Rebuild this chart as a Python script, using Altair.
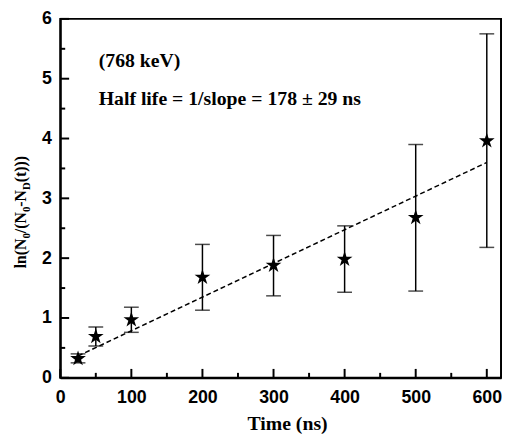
import altair as alt
import pandas as pd

# ---- data ----
time_ns = [25, 50, 100, 200, 300, 400, 500, 600]
ln_ratio = [0.32, 0.69, 0.97, 1.68, 1.88, 1.98, 2.68, 3.96]
err_low = [0.25, 0.53, 0.76, 1.13, 1.37, 1.43, 1.45, 2.18]
err_high = [0.40, 0.85, 1.18, 2.23, 2.38, 2.54, 3.90, 5.75]

fit_time = [25, 600]
fit_value = [0.365, 3.60]

x_major = [0, 100, 200, 300, 400, 500, 600]
x_minor = [50, 150, 250, 350, 450, 550]
y_major = [0, 1, 2, 3, 4, 5, 6]
y_minor = [0.5, 1.5, 2.5, 3.5, 4.5, 5.5]

notes = ["(768 keV)", "Half life = 1/slope = 178 \u00b1 29 ns"]

y_title_pieces = ["ln(N", "0", "/(N", "0", "-N", "D", "(t)))"]
y_title_sub = [False, True, False, True, False, True, False]

# ---- layout ----
W, H = 447, 364
X_DOMAIN = [0, 620]
Y_DOMAIN = [0, 6]

pts = pd.DataFrame({"t": time_ns, "v": ln_ratio, "lo": err_low, "hi": err_high})
fit = pd.DataFrame({"t": fit_time, "v": fit_value})

xs = alt.Scale(domain=X_DOMAIN, nice=False, zero=False)
ys = alt.Scale(domain=Y_DOMAIN, nice=False, zero=False)

STAR = ("M0,-1 L0.2245,-0.309 L0.951,-0.309 L0.363,0.118 L0.588,0.809 "
        "L0,0.382 L-0.588,0.809 L-0.363,0.118 L-0.951,-0.309 L-0.2245,-0.309 Z")

x_axis = alt.Axis(values=x_major, format="d", ticks=False, tickSize=0, grid=False,
                  labelFont="Liberation Sans", labelFontWeight="bold", labelFontSize=18,
                  labelColor="black", labelPadding=11, labelFlush=False,
                  domainColor="black", domainWidth=2,
                  title="Time (ns)", titleFont="Liberation Serif", titleFontWeight="bold",
                  titleFontSize=20, titleColor="black", titleX=230, titleY=52,
                  titleBaseline="alphabetic", titleAlign="center")
y_axis = alt.Axis(values=y_major, format="d", ticks=False, tickSize=0, grid=False,
                  labelFont="Liberation Sans", labelFontWeight="bold", labelFontSize=18,
                  labelColor="black", labelPadding=9, labelFlush=False,
                  domainColor="black", domainWidth=2, title=None)

base = alt.Chart(pts)

line = alt.Chart(fit).mark_line(color="black", strokeWidth=1.5, strokeDash=[5, 3]).encode(
    x=alt.X("t:Q", scale=xs, axis=x_axis),
    y=alt.Y("v:Q", scale=ys, axis=y_axis),
)

bars = base.mark_rule(color="black", strokeWidth=1.5).encode(
    x=alt.X("t:Q", scale=xs), y=alt.Y("lo:Q", scale=ys), y2="hi:Q")
cap_hi = base.mark_tick(color="black", orient="horizontal", size=15, thickness=1.5).encode(
    x=alt.X("t:Q", scale=xs), y=alt.Y("hi:Q", scale=ys))
cap_lo = base.mark_tick(color="black", orient="horizontal", size=15, thickness=1.5).encode(
    x=alt.X("t:Q", scale=xs), y=alt.Y("lo:Q", scale=ys))

stars = base.mark_point(shape=STAR, size=280, filled=True, color="black", opacity=1).encode(
    x=alt.X("t:Q", scale=xs), y=alt.Y("v:Q", scale=ys))

# inward ticks
xt_major = alt.Chart(pd.DataFrame({"t": x_major})).mark_rule(color="black", strokeWidth=2).encode(
    x=alt.X("t:Q", scale=xs), y=alt.value(H), y2=alt.value(H - 9))
xt_minor = alt.Chart(pd.DataFrame({"t": x_minor})).mark_rule(color="black", strokeWidth=2).encode(
    x=alt.X("t:Q", scale=xs), y=alt.value(H), y2=alt.value(H - 5))
yt_major = alt.Chart(pd.DataFrame({"v": y_major})).mark_rule(color="black", strokeWidth=2).encode(
    y=alt.Y("v:Q", scale=ys), x=alt.value(0), x2=alt.value(9))
yt_minor = alt.Chart(pd.DataFrame({"v": y_minor})).mark_rule(color="black", strokeWidth=2).encode(
    y=alt.Y("v:Q", scale=ys), x=alt.value(0), x2=alt.value(5))

# annotations
note_df = pd.DataFrame({"txt": notes, "px": [39, 39], "py": [49, 87]})
note_layer = alt.Chart(note_df).mark_text(
    font="Liberation Serif", fontWeight="bold", fontSize=20, color="black",
    align="left", baseline="alphabetic").encode(
    x=alt.X("px:Q", scale=None), y=alt.Y("py:Q", scale=None), text="txt:N")

# rotated y-axis title with subscripts
CW = {'l': 278, 'n': 556, '(': 333, 'N': 722, '/': 278, '-': 333, 'D': 722,
      't': 333, ')': 333, '0': 500}
MAIN, SUB = 16, 11
pos_y, pos_x, sizes = [], [], []
cur = 269 - 16
for piece, is_sub in zip(y_title_pieces, y_title_sub):
    fs = SUB if is_sub else MAIN
    pos_y.append(cur)
    pos_x.append(-31 if is_sub else -35)
    sizes.append(fs)
    cur -= sum(CW[c] for c in piece) * fs / 1000.0
yt_df = pd.DataFrame({"txt": y_title_pieces, "px": pos_x, "py": pos_y, "fs": sizes})
ytitle = alt.Chart(yt_df).mark_text(
    font="Liberation Serif", fontWeight="bold", color="black", angle=270,
    align="left", baseline="alphabetic").encode(
    x=alt.X("px:Q", scale=None), y=alt.Y("py:Q", scale=None), text="txt:N",
    size=alt.Size("fs:Q", scale=None, legend=None))

chart = alt.layer(
    line, bars, cap_hi, cap_lo, stars, xt_major, xt_minor, yt_major, yt_minor,
    note_layer, ytitle
).properties(
    width=W, height=H,
    autosize=alt.AutoSizeParams(type="none"),
    padding={"left": 53, "top": 8, "right": 1, "bottom": 57},
    background="white",
).configure_view(stroke="black", strokeWidth=2)

chart.save("out.html", embed_options={"renderer": "svg", "actions": False})
